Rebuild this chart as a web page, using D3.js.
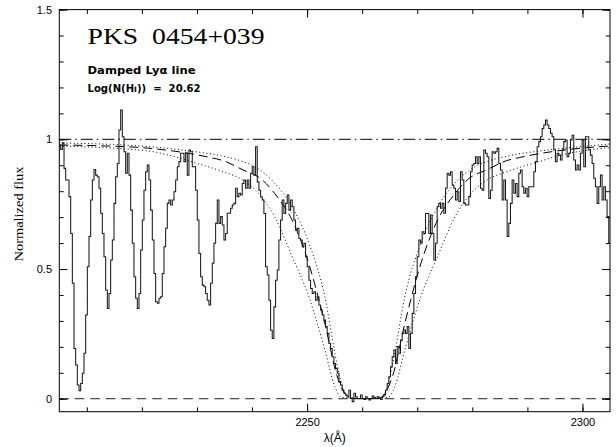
<!DOCTYPE html>
<html><head><meta charset="utf-8">
<script src="https://cdn.jsdelivr.net/npm/d3@7"></script>
<style>body{margin:0;background:#fff}svg{display:block}</style>
</head><body>
<svg id="c" width="616" height="447"></svg>
<script>
// ---- data ----
const specStart = 2205.1;   // Å, first pixel
const specStep = 0.3025;    // Å per pixel
const flux = [
0.978,0.961,0.987,0.888,0.843,0.843,0.779,0.637,0.445,0.194,
0.130,0.053,0.031,0.059,0.098,0.175,0.323,0.509,0.625,0.766,
0.843,0.884,0.862,0.856,0.811,0.715,0.637,0.547,0.419,0.348,
0.406,0.535,0.612,0.753,0.856,0.907,1.036,1.113,1.010,0.952,
0.869,0.946,0.862,0.727,0.599,0.470,0.387,0.348,0.406,0.573,
0.689,0.804,0.875,0.901,0.843,0.727,0.612,0.483,0.374,0.368,
0.387,0.393,0.483,0.586,0.657,0.753,0.766,0.747,0.766,0.798,
0.843,0.894,0.914,0.946,0.946,0.914,0.946,0.862,0.959,0.952,
0.894,0.894,0.804,0.689,0.560,0.470,0.438,0.432,0.406,0.380,
0.361,0.445,0.522,0.599,0.676,0.766,0.676,0.702,0.670,0.612,
0.637,0.715,0.715,0.734,0.747,0.753,0.811,0.779,
0.792,0.785,0.830,0.843,0.811,0.843,0.811,0.869,0.894,0.862,
0.971,0.836,0.804,0.778,0.766,0.714,0.509,0.477,0.380,0.264,
0.232,0.354,0.457,0.496,0.612,0.689,0.766,0.714,0.753,0.785,
0.727,0.766,0.740,0.689,0.650,0.657,0.618,0.612,0.586,0.599,
0.547,0.509,0.457,0.425,0.406,0.412,0.380,0.393,0.361,0.342,
0.323,0.303,0.278,0.252,0.213,0.194,0.162,0.136,0.117,0.098,
0.066,0.053,0.033,0.021,0.014,0.008,0.033,0.001,-0.012,0.021,
0.008,0.001,0.001,0.014,0.001,-0.003,0.008,0.001,-0.005,0.001,
0.010,0.005,0.001,0.008,0.001,-0.003,0.008,0.014,0.033,0.059,
0.085,0.123,0.162,0.188,0.136,0.201,0.175,0.226,0.252,0.265,
0.252,0.278,0.194,0.252,0.329,0.406,0.470,0.547,0.612,0.599,
0.644,0.637,0.714,0.714,
0.637,0.708,0.637,0.535,0.599,0.740,0.753,0.734,0.753,0.715,
0.811,0.869,0.862,0.875,0.824,0.811,0.766,0.798,0.760,0.875,
0.843,0.753,0.747,0.747,0.779,0.875,0.901,0.907,0.933,0.907,
0.933,0.811,0.804,0.959,0.946,0.933,0.772,0.804,0.952,0.946,
0.952,0.965,0.907,0.882,0.766,0.843,0.766,0.625,0.676,0.753,
0.843,0.792,0.830,0.779,0.869,0.882,0.817,0.792,0.811,0.779,
0.817,0.817,0.817,0.875,0.914,0.971,0.991,1.010,1.042,1.055,
1.074,1.055,1.042,1.023,1.010,0.959,0.914,0.946,0.939,0.920,
0.959,0.991,0.997,0.933,0.946,0.997,1.016,0.920,0.882,0.901,
0.882,0.946,0.997,0.894,1.010,1.010,0.959,0.939,0.907,0.850,
0.817,0.753,0.817,0.862,0.766,0.817,0.766,0.702,0.600
];

// best-fit damped Lyα profile (dashed)
const fitLambda = [2205.0,2212.39,2221.10,2225.64,2228.72,2232.35,2234.71,2238.16,2241.79,2244.15,2247.24,2250.32,2253.22,2255.40,2256.85,2257.76,2260.48,
  2263.20,2264.11,2265.56,2267.74,2270.64,2273.72,2276.81,2279.17,2282.80,2286.25,2288.61,2292.24,2295.32,2299.86,2304.95];
const fitFlux = [0.978,0.975,0.966,0.955,0.945,0.930,0.918,0.884,0.845,0.790,0.690,0.520,0.290,0.090,0.020,0.003,0.000,
  0.003,0.020,0.090,0.290,0.520,0.690,0.790,0.845,0.884,0.918,0.930,0.945,0.955,0.966,0.974];

// lower column density profile (dotted, narrow)
const lowLambda = [2205.0,2221.10,2228.72,2234.71,2237.80,2240.52,2244.15,2247.24,2250.32,2253.22,2255.40,2256.67,2257.76,2260.48,
  2263.20,2264.29,2265.56,2267.74,2270.64,2273.72,2276.81,2280.44,2283.16,2286.25,2292.24,2299.86,2304.95];
const lowFlux = [0.986,0.972,0.955,0.935,0.918,0.894,0.830,0.740,0.600,0.393,0.137,0.030,0.003,0.000,
  0.003,0.030,0.137,0.393,0.600,0.740,0.830,0.894,0.918,0.935,0.955,0.972,0.982];

// higher column density profile (dotted, broad)
const highLambda = [2205.0,2221.10,2225.64,2228.72,2234.71,2238.16,2241.24,2244.15,2247.24,2250.32,2253.22,2255.04,2256.31,2260.48,
  2264.65,2265.92,2267.74,2270.64,2273.72,2276.81,2279.72,2282.80,2286.25,2292.24,2295.32,2299.86,2304.95];
const highFlux = [0.974,0.955,0.935,0.915,0.875,0.845,0.790,0.700,0.550,0.393,0.188,0.046,0.005,0.000,
  0.005,0.046,0.188,0.393,0.550,0.700,0.790,0.845,0.875,0.915,0.935,0.955,0.968];

const xMinorTicks = [2210,2220,2230,2240,2250,2260,2270,2280,2290,2300];
const xMajorTicks = [2250,2300];
const xTickLabels = ["2250","2300"];
const yMinorTicks = [0,0.1,0.2,0.3,0.4,0.5,0.6,0.7,0.8,0.9,1.0,1.1,1.2,1.3,1.4,1.5];
const yMajorTicks = [0,0.5,1,1.5];
const yTickLabels = ["0","0.5","1","1.5"];

// ---- drawing ----
const svg = d3.select("#c");
const L = 59.3, R = 610, T = 9.6, B = 411.7;
const x = d3.scaleLinear().domain([2205, 2305]).range([L, R]);
const y = d3.scaleLinear().domain([-0.05, 1.5]).range([B, T]);

svg.append("defs").append("clipPath").attr("id","clip")
  .append("rect").attr("x",L).attr("y",T).attr("width",R-L).attr("height",B-T);
const plot = svg.append("g").attr("clip-path","url(#clip)");

// reference lines
plot.append("line").attr("x1",L).attr("x2",R).attr("y1",y(1)).attr("y2",y(1))
  .attr("stroke","#000").attr("stroke-width",1).attr("stroke-dasharray","12,4,1.5,4");
plot.append("line").attr("x1",L).attr("x2",R).attr("y1",y(0)).attr("y2",y(0))
  .attr("stroke","#222").attr("stroke-width",1).attr("stroke-dasharray","9.5,6");

const smooth = d3.line().x(d => x(d[0])).y(d => y(d[1])).curve(d3.curveMonotoneX);
plot.append("path").attr("d", smooth(d3.zip(highLambda, highFlux)))
  .attr("fill","none").attr("stroke","#000").attr("stroke-width",1).attr("stroke-dasharray","1,2.6");
plot.append("path").attr("d", smooth(d3.zip(lowLambda, lowFlux)))
  .attr("fill","none").attr("stroke","#000").attr("stroke-width",1).attr("stroke-dasharray","1,2.6");
plot.append("path").attr("d", smooth(d3.zip(fitLambda, fitFlux)))
  .attr("fill","none").attr("stroke","#000").attr("stroke-width",1).attr("stroke-dasharray","9,5");

// spectrum (histogram steps)
const spec = flux.map((f, i) => [specStart + i * specStep, f]);
const step = d3.line().x(d => x(d[0])).y(d => y(d[1])).curve(d3.curveStep);
plot.append("path").attr("d", step(spec))
  .attr("fill","none").attr("stroke","#1a1a1a").attr("stroke-width",1.05);

// frame
svg.append("rect").attr("x",L).attr("y",T).attr("width",R-L).attr("height",B-T)
  .attr("fill","none").attr("stroke","#000").attr("stroke-width",1);

function styleAxis(g){
  g.select(".domain").remove();
  g.selectAll("line").attr("stroke","#000").attr("stroke-width",1);
  g.selectAll("text").attr("fill","#000").style("font-family","'Liberation Sans', Arial, sans-serif").style("font-size","11px");
}
// bottom
svg.append("g").attr("transform",`translate(0,${B})`)
  .call(d3.axisBottom(x).tickValues(xMinorTicks).tickSize(-4.3).tickFormat("")).call(styleAxis);
svg.append("g").attr("transform",`translate(0,${B})`)
  .call(d3.axisBottom(x).tickValues(xMajorTicks).tickSize(-8).tickPadding(7)
    .tickFormat((d,i) => xTickLabels[i])).call(styleAxis);
// top
svg.append("g").attr("transform",`translate(0,${T})`)
  .call(d3.axisTop(x).tickValues(xMinorTicks).tickSize(-4.3).tickFormat("")).call(styleAxis);
svg.append("g").attr("transform",`translate(0,${T})`)
  .call(d3.axisTop(x).tickValues(xMajorTicks).tickSize(-8).tickFormat("")).call(styleAxis);
// left
svg.append("g").attr("transform",`translate(${L},0)`)
  .call(d3.axisLeft(y).tickValues(yMinorTicks).tickSize(-4.3).tickFormat("")).call(styleAxis);
svg.append("g").attr("transform",`translate(${L},0)`)
  .call(d3.axisLeft(y).tickValues(yMajorTicks).tickSize(-8).tickPadding(7.3)
    .tickFormat((d,i) => yTickLabels[i])).call(styleAxis);
// right
svg.append("g").attr("transform",`translate(${R},0)`)
  .call(d3.axisRight(y).tickValues(yMinorTicks).tickSize(-4.3).tickFormat("")).call(styleAxis);
svg.append("g").attr("transform",`translate(${R},0)`)
  .call(d3.axisRight(y).tickValues(yMajorTicks).tickSize(-8).tickFormat("")).call(styleAxis);

// axis titles
svg.append("text").attr("x",(L+R)/2).attr("y",442).attr("text-anchor","middle")
  .style("font-family","'Liberation Sans', Arial, sans-serif").style("font-size","12px").text("λ(Å)");
svg.append("text").attr("transform","translate(22.5,214) rotate(-90)").attr("text-anchor","middle")
  .style("font-family","'Liberation Serif', serif").style("font-size","12px")
  .attr("textLength",95).attr("lengthAdjust","spacingAndGlyphs").text("Normalized flux");

// annotations
svg.append("text").attr("x",87.5).attr("y",43.5)
  .style("font-family","'Liberation Serif', serif").style("font-size","23px").style("white-space","pre")
  .attr("textLength",177).attr("lengthAdjust","spacingAndGlyphs").text("PKS  0454+039");
svg.append("text").attr("x",87.5).attr("y",74)
  .style("font-family","'DejaVu Sans', sans-serif").style("font-size","10px").style("font-weight","bold")
  .attr("textLength",108).attr("lengthAdjust","spacingAndGlyphs").text("Damped Lyα line");
const t3 = svg.append("text").attr("x",87.5).attr("y",92)
  .style("font-family","'DejaVu Sans', sans-serif").style("font-size","10px").style("font-weight","bold")
  .style("white-space","pre").attr("textLength",113).attr("lengthAdjust","spacingAndGlyphs");
t3.append("tspan").text("Log(N(H");
t3.append("tspan").style("font-size","7.5px").text("I");
t3.append("tspan").text("))  =  20.62");
</script>
</body></html>
